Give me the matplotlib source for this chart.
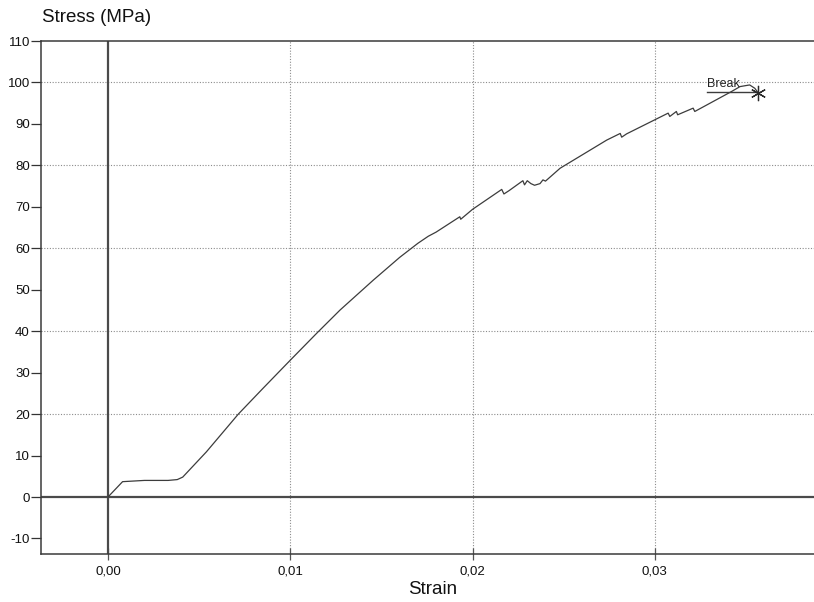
import matplotlib.pyplot as plt
from matplotlib.ticker import FuncFormatter

plt.rcParams['font.family'] = ['Liberation Sans', 'DejaVu Sans']
plt.rcParams['axes.unicode_minus'] = False

# curva tension-deformacion
strain = [0.0, 0.0008, 0.0020, 0.0033, 0.0038, 0.0041, 0.0054, 0.00715,
          0.0085, 0.0100, 0.01145, 0.01273, 0.01455, 0.0160, 0.0170, 0.01757,
          0.01800, 0.01930, 0.01935, 0.0200, 0.02160, 0.02172, 0.02200, 0.02276,
          0.02285, 0.02300, 0.02320, 0.02340, 0.02370, 0.02386, 0.02400,
          0.0248, 0.02736, 0.02810, 0.02818, 0.02845, 0.0300, 0.03073, 0.03082,
          0.03118, 0.03125, 0.03210, 0.03219, 0.0342, 0.03467, 0.0352, 0.03548,
          0.03567]
stress = [0.0, 3.7, 4.0, 4.0, 4.2, 4.8, 10.9, 20.0,
          26.2, 33.0, 39.5, 45.1, 52.3, 57.8, 61.2, 62.9,
          63.9, 67.6, 67.0, 69.4, 74.2, 73.1, 73.9, 76.3,
          75.3, 76.3, 75.6, 75.2, 75.6, 76.5, 76.2,
          79.3, 86.1, 87.7, 86.8, 87.6, 91.0, 92.6, 91.8,
          93.0, 92.2, 93.8, 93.0, 97.8, 99.0, 99.4, 98.6,
          97.5]

x_ticks = [0.0, 0.01, 0.02, 0.03]
y_ticks = [-10, 0, 10, 20, 30, 40, 50, 60, 70, 80, 90, 100, 110]
y_grid = [20, 40, 60, 80, 100]
break_label = 'Break'
break_label_strain = 0.03284

fig = plt.figure(figsize=(8.14, 6.02), dpi=100)
ax = fig.add_axes([41 / 814, 48 / 602, 773 / 814, 513 / 602])

ax.set_xlim(-0.003675, 0.03873)
ax.set_ylim(-13.75, 110)

# rejilla punteada
for g in y_grid:
    ax.axhline(g, color='#8c8c8c', lw=0.8, ls=(0, (1, 1.5)), zorder=1)
for g in x_ticks[1:]:
    ax.axvline(g, color='#8c8c8c', lw=0.8, ls=(0, (1, 1.5)), zorder=1)
ax.axhline(0, color='#4a4a4a', lw=1.6, zorder=2)
ax.axvline(0, color='#4a4a4a', lw=1.6, zorder=2)

ax.plot(strain, stress, color='#3c3c3c', lw=0.9, zorder=3)

# marca de rotura
ax.plot(strain[-1], stress[-1], marker=(6, 2, 0), ms=11, mew=0.9, color='#2a2a2a', zorder=4)
ax.plot([break_label_strain, strain[-1]], [stress[-1] + 0.1, stress[-1] + 0.1],
        color='#3c3c3c', lw=1.0, zorder=3)
ax.text(break_label_strain, stress[-1] + 0.6, break_label, fontsize=9,
        color='#222222', ha='left', va='bottom', zorder=4)

ax.set_xticks(x_ticks)
ax.set_yticks(y_ticks)
ax.xaxis.set_major_formatter(FuncFormatter(lambda v, p: f'{v:.2f}'.replace('.', ',')))
ax.tick_params(axis='y', direction='out', length=7, width=0.9, labelsize=9.5,
               color='#333333', labelcolor='#111111', pad=1)
ax.tick_params(axis='x', direction='inout', length=8, width=0.9, labelsize=9.5,
               color='#555555', labelcolor='#111111', pad=4)

for side in ['left', 'bottom', 'top']:
    ax.spines[side].set_color('#3a3a3a')
    ax.spines[side].set_linewidth(1.1)
ax.spines['right'].set_visible(False)

fig.text(42 / 814, 1 - 17 / 602, 'Stress (MPa)', fontsize=13.5, ha='left', va='center', color='#111111')
fig.text(433 / 814, 1 - 589 / 602, 'Strain', fontsize=13.5, ha='center', va='center', color='#111111')

fig.savefig('out.png', dpi=100)
